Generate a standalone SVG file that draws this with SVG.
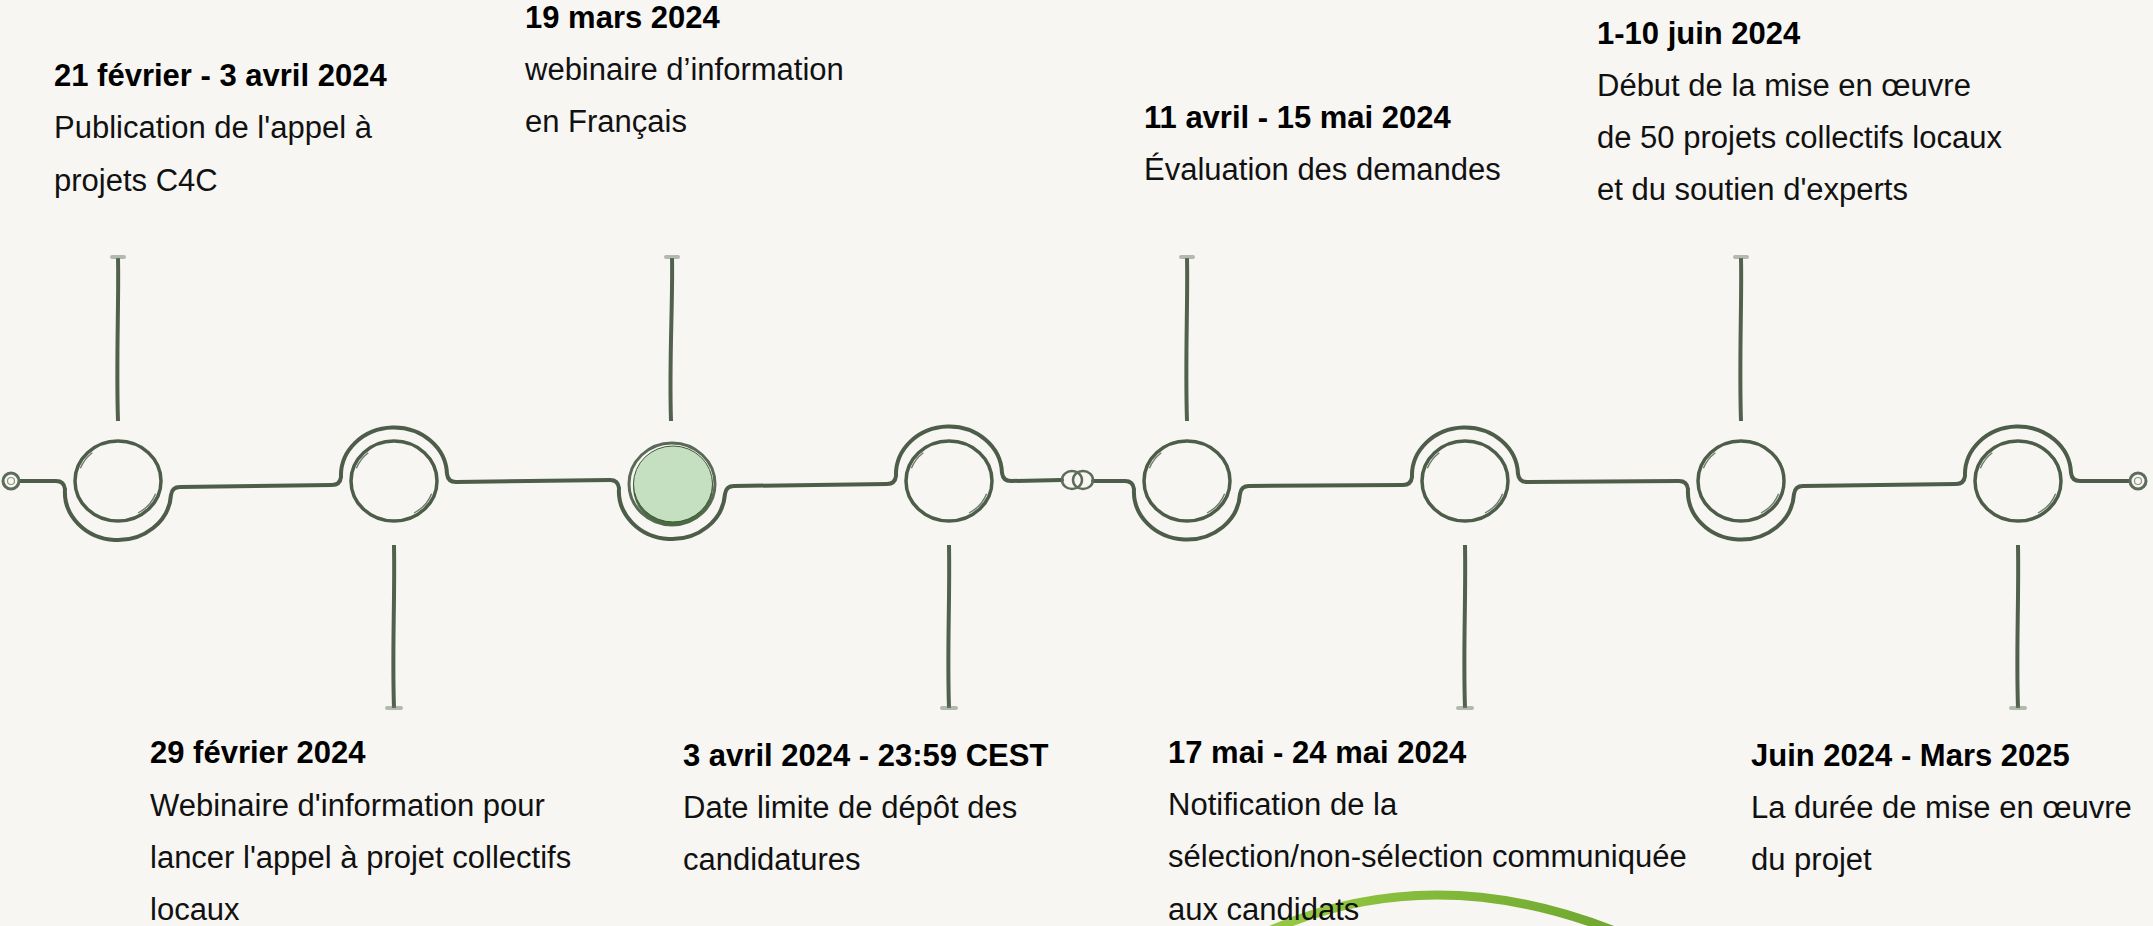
<svg xmlns="http://www.w3.org/2000/svg" width="2153" height="926" viewBox="0 0 2153 926">
<defs>
<style>
.t{font-family:"Liberation Sans",Arial,sans-serif;font-size:31px;font-weight:bold;fill:#000}
.b{font-family:"Liberation Sans",Arial,sans-serif;font-size:31px;fill:#111}
.ln{fill:none;stroke:#4d5d4a;stroke-width:4;stroke-linecap:round;stroke-linejoin:round}
.ring{fill:none;stroke:#4d5d4a;stroke-width:3.5}
.sk{fill:none;stroke:#6d7c6a;stroke-width:1.4}
.stem{fill:none;stroke:#51614e;stroke-width:4}
.cap{fill:#6e7d6b;opacity:.5}
.end{fill:#f7f6f3;stroke:#5d6c5a;stroke-width:3}
.endin{fill:none;stroke:#8a9787;stroke-width:1.2}
</style>
<linearGradient id="gArc" x1="0" y1="0" x2="1" y2="0">
<stop offset="0" stop-color="#97ca45"/>
<stop offset="1" stop-color="#6ea72f"/>
</linearGradient>
</defs>
<rect width="2153" height="926" fill="#f7f6f3"/>

<path d="M1262 934 Q1432 856 1622 934" fill="none" stroke="url(#gArc)" stroke-width="9"/>

<g id="connectors">
<path class="ln" d="M19 481 L56 481 Q64 481 65 489 A53 48 0 0 0 171 495 Q172 487 180 487 L332 485 Q340 485 341 477 A53 48 0 0 1 447 474 Q448 482 456 482 L610 480 Q618 480 619 488 A53 48 0 0 0 725 494 Q726 486 734 486 L887 484 Q895 484 896 476 A53 48 0 0 1 1002 473 Q1003 481 1011 481 L1062 480"/>
<path class="ln" d="M1093 481 L1125 481 Q1133 481 1134 489 A53 48 0 0 0 1240 494 Q1241 486 1249 486 L1403 485 Q1411 485 1412 477 A53 48 0 0 1 1518 474 Q1519 482 1527 482 L1679 481 Q1687 481 1688 489 A53 48 0 0 0 1794 494 Q1795 486 1803 486 L1956 484 Q1964 484 1965 476 A53 48 0 0 1 2071 473 Q2072 481 2080 481 L2130 481"/>
<ellipse cx="1072" cy="480" rx="10" ry="9" fill="none" stroke="#5d6c5a" stroke-width="2.5"/>
<ellipse cx="1083" cy="480" rx="10" ry="9" fill="none" stroke="#5d6c5a" stroke-width="2.5"/>
<circle class="end" cx="11" cy="481" r="8"/>
<circle class="endin" cx="11" cy="481" r="3.5"/>
<circle class="end" cx="2138" cy="481" r="8"/>
<circle class="endin" cx="2138" cy="481" r="3.5"/>
</g>

<g id="node-1">
<ellipse class="ring" cx="118" cy="481" rx="43" ry="40"/>
<path class="sk" d="M155.6 493.7 A40 37 0 0 1 138 513"/>
<path class="sk" d="M80.4 468.3 A40 37 0 0 1 92.3 452.7"/>
<path class="stem" d="M118 258 C119 300 116 360 118 421"/>
<rect class="cap" x="110" y="255" width="16" height="4" rx="2"/>
<text class="t" x="54" y="86">21 février - 3 avril 2024</text>
<text class="b" x="54" y="138">Publication de l'appel à</text>
<text class="b" x="54" y="191">projets C4C</text>
</g>

<g id="node-2">
<ellipse class="ring" cx="394" cy="481" rx="43" ry="40"/>
<path class="sk" d="M431.6 493.7 A40 37 0 0 1 414 513"/>
<path class="sk" d="M356.4 468.3 A40 37 0 0 1 368.3 452.7"/>
<path class="stem" d="M394 545 C395 600 392 650 394 708"/>
<rect class="cap" x="385" y="706" width="18" height="4" rx="2"/>
<text class="t" x="150" y="763">29 février 2024</text>
<text class="b" x="150" y="816">Webinaire d'information pour</text>
<text class="b" x="150" y="868">lancer l'appel à projet collectifs</text>
<text class="b" x="150" y="920">locaux</text>
</g>

<g id="node-3">
<ellipse cx="672" cy="484" rx="43" ry="41" fill="none" stroke="#5a6a57" stroke-width="3"/>
<ellipse cx="673" cy="487" rx="40" ry="39" fill="#4b6a42"/>
<ellipse cx="673" cy="484" rx="39.5" ry="38" fill="#c5e0c0" stroke="#3f5a37" stroke-width="1"/>
<path class="stem" d="M672 258 C673 300 669 360 671 421"/>
<rect class="cap" x="664" y="255" width="16" height="4" rx="2"/>
<text class="t" x="525" y="28">19 mars 2024</text>
<text class="b" x="525" y="80">webinaire d’information</text>
<text class="b" x="525" y="132">en Français</text>
</g>

<g id="node-4">
<ellipse class="ring" cx="949" cy="481" rx="43" ry="40"/>
<path class="sk" d="M986.6 493.7 A40 37 0 0 1 969 513"/>
<path class="sk" d="M911.4 468.3 A40 37 0 0 1 923.3 452.7"/>
<path class="stem" d="M949 545 C950 600 947 650 949 708"/>
<rect class="cap" x="940" y="706" width="18" height="4" rx="2"/>
<text class="t" x="683" y="766">3 avril 2024 - 23:59 CEST</text>
<text class="b" x="683" y="818">Date limite de dépôt des</text>
<text class="b" x="683" y="870">candidatures</text>
</g>

<g id="node-5">
<ellipse class="ring" cx="1187" cy="481" rx="43" ry="40"/>
<path class="sk" d="M1224.6 493.7 A40 37 0 0 1 1207 513"/>
<path class="sk" d="M1149.4 468.3 A40 37 0 0 1 1161.3 452.7"/>
<path class="stem" d="M1187 258 C1188 300 1185 360 1187 421"/>
<rect class="cap" x="1179" y="255" width="16" height="4" rx="2"/>
<text class="t" x="1144" y="128">11 avril - 15 mai 2024</text>
<text class="b" x="1144" y="180">Évaluation des demandes</text>
</g>

<g id="node-6">
<ellipse class="ring" cx="1465" cy="481" rx="43" ry="40"/>
<path class="sk" d="M1502.6 493.7 A40 37 0 0 1 1485 513"/>
<path class="sk" d="M1427.4 468.3 A40 37 0 0 1 1439.3 452.7"/>
<path class="stem" d="M1465 545 C1466 600 1463 650 1465 708"/>
<rect class="cap" x="1456" y="706" width="18" height="4" rx="2"/>
<text class="t" x="1168" y="763">17 mai - 24 mai 2024</text>
<text class="b" x="1168" y="815">Notification de la</text>
<text class="b" x="1168" y="867">sélection/non-sélection communiquée</text>
<text class="b" x="1168" y="920">aux candidats</text>
</g>

<g id="node-7">
<ellipse class="ring" cx="1741" cy="481" rx="43" ry="40"/>
<path class="sk" d="M1778.6 493.7 A40 37 0 0 1 1761 513"/>
<path class="sk" d="M1703.4 468.3 A40 37 0 0 1 1715.3 452.7"/>
<path class="stem" d="M1741 258 C1742 300 1739 360 1741 421"/>
<rect class="cap" x="1733" y="255" width="16" height="4" rx="2"/>
<text class="t" x="1597" y="44">1-10 juin 2024</text>
<text class="b" x="1597" y="96">Début de la mise en œuvre</text>
<text class="b" x="1597" y="148">de 50 projets collectifs locaux</text>
<text class="b" x="1597" y="200">et du soutien d'experts</text>
</g>

<g id="node-8">
<ellipse class="ring" cx="2018" cy="481" rx="43" ry="40"/>
<path class="sk" d="M2055.6 493.7 A40 37 0 0 1 2038 513"/>
<path class="sk" d="M1980.4 468.3 A40 37 0 0 1 1992.3 452.7"/>
<path class="stem" d="M2018 545 C2019 600 2016 650 2018 708"/>
<rect class="cap" x="2009" y="706" width="18" height="4" rx="2"/>
<text class="t" x="1751" y="766">Juin 2024 - Mars 2025</text>
<text class="b" x="1751" y="818">La durée de mise en œuvre</text>
<text class="b" x="1751" y="870">du projet</text>
</g>
</svg>
